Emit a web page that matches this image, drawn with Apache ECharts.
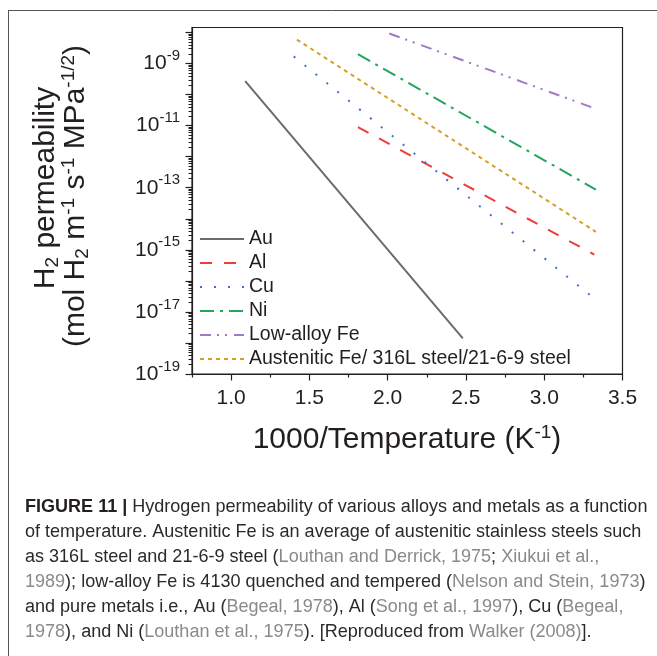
<!DOCTYPE html>
<html><head><meta charset="utf-8">
<script src="https://cdn.jsdelivr.net/npm/echarts@6/dist/echarts.min.js"></script>
<style>html,body{margin:0;padding:0;background:#fff;}#c{width:657px;height:656px;}</style>
</head><body><div id="c"></div>
<script>
// ---- data ----
const seriesNames = ['Au', 'Al', 'Cu', 'Ni', 'Low-alloy Fe', 'Austenitic Fe/ 316L steel/21-6-9 steel'];
const auX = [1.09, 2.48];   const auY = [2.7e-10, 1.4e-18];
const alX = [1.81, 3.32];   const alY = [9.0e-12, 7.0e-16];
const cuX = [1.40, 3.32];   const cuY = [1.7e-9, 2.7e-17];
const niX = [1.81, 3.33];   const niY = [2.0e-9, 8.7e-14];
const feX = [2.01, 3.31];   const feY = [9.3e-9, 3.8e-11];
const ausX = [1.42, 3.33];  const ausY = [5.9e-9, 3.8e-15];
const xTickValues = [1.0, 1.5, 2.0, 2.5, 3.0, 3.5];
const xTickLabels = ['1.0', '1.5', '2.0', '2.5', '3.0', '3.5'];
const xMinorTickValues = [0.75, 1.25, 1.75, 2.25, 2.75, 3.25];
const yLabelExponents = [-19, -17, -15, -13, -11, -9];
const yDecadeExponents = [-19, -18, -17, -16, -15, -14, -13, -12, -11, -10, -9, -8];
const captionLines = [
  [['b', 'FIGURE 11 | '], ['n', 'Hydrogen permeability of various alloys and metals as a function']],
  [['n', 'of temperature. Austenitic Fe is an average of austenitic stainless steels such']],
  [['n', 'as 316L steel and 21-6-9 steel ('], ['g', 'Louthan and Derrick, 1975'], ['n', '; '], ['g', 'Xiukui et al.,']],
  [['g', '1989'], ['n', '); low-alloy Fe is 4130 quenched and tempered ('], ['g', 'Nelson and Stein, 1973'], ['n', ')']],
  [['n', 'and pure metals i.e., Au ('], ['g', 'Begeal, 1978'], ['n', '), Al ('], ['g', 'Song et al., 1997'], ['n', '), Cu ('], ['g', 'Begeal,']],
  [['g', '1978'], ['n', '), and Ni ('], ['g', 'Louthan et al., 1975'], ['n', '). [Reproduced from '], ['g', 'Walker (2008)'], ['n', '].']]
];

// ---- styling ----
const FONT = "'Liberation Sans', Arial, Helvetica, sans-serif";
const CAPFONT = "'Liberation Sans Narrow', 'Liberation Sans', Arial, sans-serif";
const INK = '#231f20';
const colors = ['#6b6b6b', '#ee3d3d', '#3b6fd0', '#22a55c', '#a07ac6', '#d6a022'];
const dashes = ['solid', [12, 12], [2, 12], [14, 6, 3, 6], [11, 6, 2, 6, 2, 7], [4, 4]];
const xs = [auX, alX, cuX, niX, feX, ausX];
const ys = [auY, alY, cuY, niY, feY, ausY];

const yMax = 1.45e-8, yMin = 1e-19;
const yMajor = yDecadeExponents.map(e => Math.pow(10, e));
const yLabels = yLabelExponents.map(e => Math.pow(10, e));
const yMinor = [];
yDecadeExponents.forEach(e => { for (let m = 2; m <= 9; m++) { const v = m * Math.pow(10, e); if (v < yMax) yMinor.push(v); } });

// caption font fit
const cv = document.createElement('canvas').getContext('2d');
function lineWidth(line, size) {
  let w = 0;
  line.forEach(([k, t]) => { cv.font = (k === 'b' ? 'bold ' : '') + size + 'px ' + CAPFONT; w += cv.measureText(t).width; });
  return w;
}
const capSize = Math.min(19, 16 * 623 / lineWidth(captionLines[0], 16));
const capRich = {
  b: { fontFamily: CAPFONT, fontSize: capSize, fontWeight: 'bold', fill: INK, color: INK },
  n: { fontFamily: CAPFONT, fontSize: capSize, fill: '#2a2a2a', color: '#2a2a2a' },
  g: { fontFamily: CAPFONT, fontSize: capSize, fill: '#8a8a8a', color: '#8a8a8a' }
};
const capY = [507, 532, 557, 582, 607, 632];
const captionGraphics = captionLines.map((line, i) => ({
  type: 'text', x: 25, y: capY[i], silent: true,
  style: { text: line.map(([k, t]) => '{' + k + '|' + t + '}').join(''), rich: capRich, align: 'left', verticalAlign: 'middle', font: capSize + 'px ' + CAPFONT }
}));

const titleRich = {
  n: { fontFamily: FONT, fontSize: 30, lineHeight: 33, verticalAlign: 'middle', fill: INK, color: INK },
  sup: { fontFamily: FONT, fontSize: 19, lineHeight: 18, verticalAlign: 'top', fill: INK, color: INK },
  sub: { fontFamily: FONT, fontSize: 19, lineHeight: 17, verticalAlign: 'bottom', fill: INK, color: INK }
};

const chart = echarts.init(document.getElementById('c'), null, { renderer: 'canvas' });
chart.setOption({
  animation: false,
  backgroundColor: '#fff',
  grid: { left: 192, right: 34.5, top: 27.5, bottom: 282, show: true, borderColor: INK, borderWidth: 1.2, outerBoundsMode: 'none' },
  legend: {
    data: seriesNames, orient: 'vertical', left: 194, top: 224, itemWidth: 44, itemHeight: 14, itemGap: 4,
    textStyle: { fontFamily: FONT, fontSize: 19.5, color: INK, padding: [0, 0, 0, 0] }, itemStyle: { opacity: 0 },
    selectedMode: false
  },
  xAxis: [{
    type: 'value', min: 0.75, max: 3.5, interval: 0.25, position: 'bottom',
    axisLine: { onZero: false, lineStyle: { color: INK, width: 1.2 } },
    axisTick: { customValues: xTickValues, length: 6.5, inside: false, lineStyle: { color: INK, width: 1.2 } },
    axisLabel: { customValues: xTickValues, margin: 14, fontFamily: FONT, fontSize: 21, color: INK,
      formatter: v => { const i = xTickValues.findIndex(t => Math.abs(t - v) < 1e-9); return i >= 0 ? xTickLabels[i] : ''; } },
    splitLine: { show: false }
  }, {
    type: 'value', min: 0.75, max: 3.5, interval: 0.25, position: 'bottom', gridIndex: 0,
    axisLine: { show: false }, axisLabel: { show: false }, splitLine: { show: false },
    axisTick: { customValues: xMinorTickValues, length: 3.5, lineStyle: { color: INK, width: 1.2 } }
  }],
  yAxis: [{
    type: 'log', logBase: 10, min: yMin, max: yMax, position: 'left',
    axisLine: { onZero: false, lineStyle: { color: INK, width: 1.2 } },
    axisTick: { customValues: yMajor, length: 6.5, lineStyle: { color: INK, width: 1.2 } },
    axisLabel: { customValues: yLabels, margin: 12, color: INK,
      formatter: v => '{b|10}{s|' + Math.round(Math.log10(v)) + '}',
      rich: {
        b: { fontFamily: FONT, fontSize: 21, lineHeight: 30, verticalAlign: 'middle', color: INK },
        s: { fontFamily: FONT, fontSize: 15, lineHeight: 14, verticalAlign: 'top', color: INK }
      } },
    splitLine: { show: false }
  }, {
    type: 'log', logBase: 10, min: yMin, max: yMax, position: 'left', offset: 0,
    axisLine: { show: false }, axisLabel: { show: false }, splitLine: { show: false },
    axisTick: { customValues: yMinor, length: 3.5, lineStyle: { color: INK, width: 1 } }
  }],
  series: seriesNames.map((name, i) => ({
    name, type: 'line', xAxisIndex: 0, yAxisIndex: 0, symbol: 'none', showSymbol: false, silent: true,
    data: xs[i].map((x, j) => [x, ys[i][j]]),
    itemStyle: { color: colors[i] },
    lineStyle: { color: colors[i], width: 2, type: dashes[i] }
  })),
  graphic: [
    { type: 'line', silent: true, shape: { x1: 8, y1: 10.5, x2: 657, y2: 10.5 }, style: { stroke: '#555', lineWidth: 1 } },
    { type: 'line', silent: true, shape: { x1: 8.5, y1: 10, x2: 8.5, y2: 656 }, style: { stroke: '#555', lineWidth: 1 } },
    { type: 'text', silent: true, x: 46, y: 188, rotation: Math.PI / 2,
      style: { text: '{n|H}{sub|2}{n| permeability}', rich: titleRich, align: 'center', verticalAlign: 'middle', font: '30px ' + FONT } },
    { type: 'text', silent: true, x: 76, y: 196, rotation: Math.PI / 2,
      style: { text: '{n|(mol H}{sub|2}{n| m}{sup|-1}{n| s}{sup|-1}{n| MPa}{sup|-1/2}{n|)}', rich: titleRich, align: 'center', verticalAlign: 'middle', font: '30px ' + FONT } },
    { type: 'text', silent: true, x: 407, y: 440,
      style: { text: '{n|1000/Temperature (K}{sup|-1}{n|)}', rich: titleRich, align: 'center', verticalAlign: 'middle', font: '30px ' + FONT } }
  ].concat(captionGraphics)
});
</script></body></html>
